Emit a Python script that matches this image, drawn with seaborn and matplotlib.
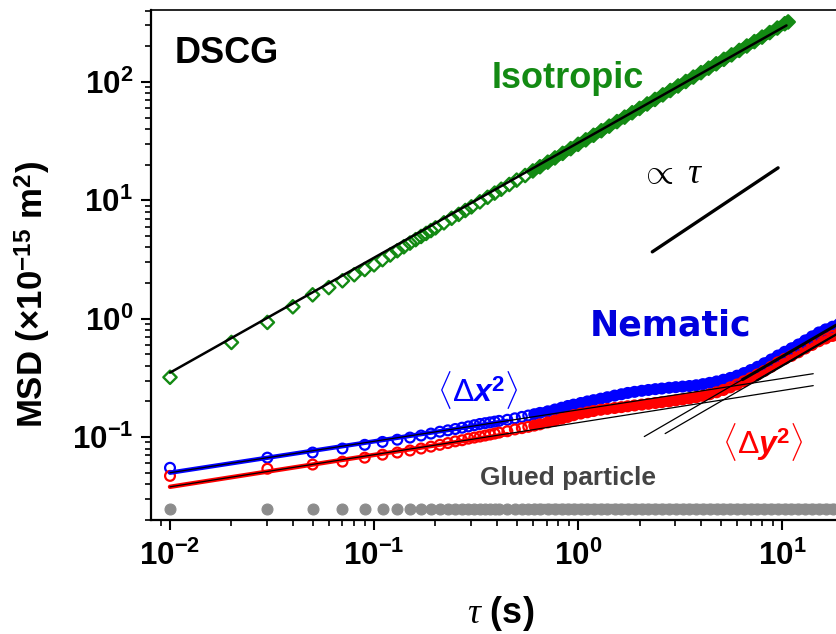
import numpy as np
import matplotlib
matplotlib.use("Agg")
import matplotlib.pyplot as plt
import matplotlib.ticker as mticker
import seaborn as sns

# isotropic phase (green diamonds), lag time in s, MSD in 1e-15 m^2
iso_tau = [0.01, 0.02, 0.03, 0.04, 0.05, 0.06, 0.07, 0.08, 0.09, 0.10,
           0.11, 0.12, 0.13, 0.14, 0.15, 0.16, 0.17, 0.18, 0.19, 0.20,
           0.22, 0.24, 0.26, 0.28, 0.30, 0.33, 0.36, 0.39, 0.42, 0.46,
           0.50, 0.55, 0.60, 0.65, 0.71, 0.77, 0.84, 0.92, 1.0, 1.09,
           1.19, 1.3, 1.42, 1.55, 1.69, 1.84, 2.0, 2.18, 2.38, 2.6,
           2.83, 3.09, 3.37, 3.67, 4.0, 4.36, 4.75, 5.18, 5.65, 6.16,
           6.71, 7.31, 7.97, 8.69, 9.47, 10.3, 10.7]
iso_msd = [0.32, 0.63, 0.93, 1.26, 1.59, 1.83, 2.09, 2.35, 2.6, 2.85,
           3.15, 3.45, 3.75, 4.05, 4.35, 4.65, 4.95, 5.25, 5.55, 5.85,
           6.45, 7.05, 7.6, 8.2, 8.8, 9.7, 10.6, 11.5, 12.4, 13.6,
           14.8, 16.2, 17.7, 19.2, 21.0, 22.8, 24.9, 27.3, 29.7, 32.4,
           35.4, 38.7, 42.3, 46.2, 50.4, 54.9, 59.7, 65.1, 71.1, 77.7,
           84.6, 92.4, 100.8, 109.8, 119.7, 130.5, 142.2, 155.1, 169.2, 184.5,
           201, 219, 239, 261, 285, 310, 321]

# nematic phase and glued particle, lag times
nem_tau = [0.01, 0.03, 0.05, 0.07, 0.09, 0.11, 0.13, 0.15, 0.17, 0.19,
           0.21, 0.23, 0.25, 0.27, 0.29, 0.31, 0.33, 0.35, 0.37, 0.39,
           0.41, 0.45, 0.49, 0.53, 0.57, 0.61, 0.65, 0.71, 0.77, 0.83,
           0.89, 0.95, 1.03, 1.11, 1.19, 1.29, 1.39, 1.51, 1.63, 1.75,
           1.89, 2.05, 2.21, 2.39, 2.57, 2.79, 3.01, 3.25, 3.51, 3.79,
           4.09, 4.41, 4.77, 5.15, 5.57, 6.01, 6.49, 7.01, 7.57, 8.17,
           8.83, 9.53, 10.29, 11.11, 12.01, 12.97, 14.01, 15.13, 16.33, 17.65,
           19.05, 20.57]
msd_x = [0.055, 0.067, 0.074, 0.080, 0.086, 0.091, 0.095, 0.099, 0.103, 0.107,
         0.111, 0.114, 0.117, 0.120, 0.123, 0.126, 0.129, 0.131, 0.133, 0.135,
         0.137, 0.140, 0.144, 0.148, 0.152, 0.156, 0.160, 0.165, 0.171, 0.177,
         0.183, 0.188, 0.194, 0.200, 0.205, 0.211, 0.217, 0.224, 0.230, 0.236,
         0.241, 0.246, 0.250, 0.254, 0.257, 0.261, 0.264, 0.267, 0.270, 0.274,
         0.280, 0.287, 0.295, 0.305, 0.316, 0.330, 0.347, 0.368, 0.392, 0.420,
         0.452, 0.488, 0.525, 0.562, 0.605, 0.655, 0.708, 0.765, 0.812, 0.855,
         0.905, 0.965]
msd_y = [0.047, 0.054, 0.0586, 0.062, 0.067, 0.071, 0.074, 0.077, 0.080, 0.083,
         0.086, 0.089, 0.092, 0.094, 0.097, 0.099, 0.101, 0.103, 0.105, 0.107,
         0.109, 0.112, 0.116, 0.119, 0.122, 0.125, 0.128, 0.133, 0.138, 0.143,
         0.148, 0.153, 0.158, 0.162, 0.166, 0.170, 0.173, 0.176, 0.179, 0.182,
         0.185, 0.188, 0.191, 0.194, 0.197, 0.200, 0.204, 0.208, 0.212, 0.217,
         0.223, 0.230, 0.239, 0.250, 0.263, 0.278, 0.296, 0.315, 0.338, 0.362,
         0.392, 0.428, 0.458, 0.485, 0.520, 0.560, 0.600, 0.645, 0.680, 0.715,
         0.755, 0.800]
# glued particle sits flat at ~0.0245
msd_glued = [0.0245, 0.0245, 0.0245, 0.0245, 0.0245, 0.0245, 0.0245, 0.0245, 0.0245, 0.0245,
             0.0245, 0.0245, 0.0245, 0.0245, 0.0245, 0.0245, 0.0245, 0.0245, 0.0245, 0.0245,
             0.0245, 0.0245, 0.0245, 0.0245, 0.0245, 0.0245, 0.0245, 0.0245, 0.0245, 0.0245,
             0.0245, 0.0245, 0.0245, 0.0245, 0.0245, 0.0245, 0.0245, 0.0245, 0.0245, 0.0245,
             0.0245, 0.0245, 0.0245, 0.0245, 0.0245, 0.0245, 0.0245, 0.0245, 0.0245, 0.0245,
             0.0245, 0.0245, 0.0245, 0.0245, 0.0245, 0.0245, 0.0245, 0.0245, 0.0245, 0.0245,
             0.0245, 0.0245, 0.0245, 0.0245, 0.0245, 0.0245, 0.0245, 0.0245, 0.0245, 0.0245,
             0.0245, 0.0245]

# fitted power laws (end points)
fit_iso_tau, fit_iso_msd = [0.01, 10.5], [0.35, 300]
fit_x_tau, fit_x_msd = [0.01, 14.2], [0.050, 0.343]
fit_y_tau, fit_y_msd = [0.01, 14.2], [0.038, 0.272]
fit_x_short_tau, fit_x_short_msd = [0.01, 0.45], [0.050, 0.137]
fit_y_short_tau, fit_y_short_msd = [0.01, 0.45], [0.038, 0.106]
steep_a_tau, steep_a_msd = [2.11, 25], [0.101, 1.20]
steep_b_tau, steep_b_msd = [2.67, 25], [0.107, 1.00]
steep_a_hi_tau, steep_a_hi_msd = [6.4, 25], [0.306, 1.20]
steep_b_hi_tau, steep_b_hi_msd = [7.5, 25], [0.300, 1.00]
guide_tau, guide_msd = [2.31, 9.55], [3.67, 18.8]

GREEN = "#138a13"
BLUE = "#0000ff"
RED = "#ff0000"
GREY = "#8c8c8c"

sns.set_style("ticks")
plt.rcParams["font.family"] = ["Liberation Sans", "DejaVu Sans"]
plt.rcParams["mathtext.fontset"] = "custom"
plt.rcParams["mathtext.rm"] = "Liberation Sans"
plt.rcParams["mathtext.bf"] = "Liberation Sans:bold"
plt.rcParams["mathtext.it"] = "Liberation Serif:italic"
plt.rcParams["mathtext.bfit"] = "Liberation Sans:italic:bold"
for key in ("text.color", "axes.labelcolor", "axes.edgecolor", "xtick.color", "ytick.color"):
    plt.rcParams[key] = "black"

fig = plt.figure(figsize=(8.36, 6.34), dpi=100)
ax = fig.add_axes([151 / 836, 114 / 634, 699 / 836, 510 / 634])
ax.set_xscale("log")
ax.set_yscale("log")

# dense tails: overlapping markers form a solid band
n0 = nem_tau.index(0.61)
i0 = iso_tau.index(0.60)
sns.lineplot(x=iso_tau[i0:], y=iso_msd[i0:], color=GREEN, lw=7.5, ax=ax, zorder=1)
sns.lineplot(x=nem_tau[n0:], y=msd_glued[n0:], color=GREY, lw=7.5, ax=ax, zorder=1)
sns.lineplot(x=nem_tau[n0:], y=msd_x[n0:], color=BLUE, lw=7, ax=ax, zorder=1)
sns.lineplot(x=nem_tau[n0:], y=msd_y[n0:], color=RED, lw=7, ax=ax, zorder=1.5)

sns.scatterplot(x=nem_tau, y=msd_glued, color=GREY, edgecolor=GREY, s=62,
                linewidth=0.8, ax=ax, zorder=2)
sns.scatterplot(x=iso_tau, y=iso_msd, marker="D", facecolor="none", edgecolor=GREEN,
                s=46, linewidth=1.7, ax=ax, zorder=2)
sns.scatterplot(x=nem_tau, y=msd_x, marker="o", facecolor="none", edgecolor=BLUE,
                s=50, linewidth=1.6, ax=ax, zorder=2)
sns.scatterplot(x=nem_tau, y=msd_y, marker="o", facecolor="none", edgecolor=RED,
                s=50, linewidth=1.6, ax=ax, zorder=2.5)

sns.lineplot(x=fit_x_short_tau, y=fit_x_short_msd, color=BLUE, lw=3.2, ax=ax, zorder=3)
sns.lineplot(x=fit_y_short_tau, y=fit_y_short_msd, color=RED, lw=3.2, ax=ax, zorder=3)
sns.lineplot(x=fit_iso_tau, y=fit_iso_msd, color="black", lw=1.8, ax=ax, zorder=4)
sns.lineplot(x=fit_x_tau, y=fit_x_msd, color="black", lw=0.9, ax=ax, zorder=4)
sns.lineplot(x=fit_y_tau, y=fit_y_msd, color="black", lw=0.9, ax=ax, zorder=4)
sns.lineplot(x=steep_a_tau, y=steep_a_msd, color="black", lw=0.9, ax=ax, zorder=4)
sns.lineplot(x=steep_b_tau, y=steep_b_msd, color="black", lw=0.9, ax=ax, zorder=4)
sns.lineplot(x=steep_a_hi_tau, y=steep_a_hi_msd, color="black", lw=2.2, ax=ax, zorder=4)
sns.lineplot(x=steep_b_hi_tau, y=steep_b_hi_msd, color="black", lw=1.6, ax=ax, zorder=4)
sns.lineplot(x=guide_tau, y=guide_msd, color="black", lw=2.4, ax=ax, zorder=4)

ax.set_xlim(0.00807, 21.5)
ax.set_ylim(0.01993, 405)


def pow10(v, pos):
    return r"$\mathbf{10^{%d}}$" % int(round(np.log10(v)))


for axis in (ax.xaxis, ax.yaxis):
    axis.set_major_locator(mticker.LogLocator(base=10, numticks=10))
    axis.set_minor_locator(mticker.LogLocator(base=10, subs=np.arange(2, 10), numticks=20))
    axis.set_major_formatter(mticker.FuncFormatter(pow10))
    axis.set_minor_formatter(mticker.NullFormatter())

ax.tick_params(which="major", direction="out", length=7, width=1.5, labelsize=22.5, pad=6)
ax.tick_params(axis="x", which="major", pad=8)
ax.tick_params(which="minor", direction="out", length=4, width=1.2)
ax.tick_params(top=False, right=False, which="both")
for side in ("left", "bottom"):
    ax.spines[side].set_linewidth(1.6)
ax.spines["top"].set_linewidth(1.2)
ax.spines["right"].set_visible(False)

ax.set_xlabel(r"$\tau$ (s)", fontsize=26, fontweight="bold", labelpad=16)
ax.set_ylabel(r"MSD (×10$^{\mathbf{-15}}$ m$^{\mathbf{2}}$)", fontsize=25, fontweight="bold")
ax.yaxis.set_label_coords(-0.140, 0.443)

ax.text(0.0343, 0.896, "DSCG", transform=ax.transAxes, fontsize=26,
        fontweight="bold", ha="left", va="baseline")
ax.text(0.4878, 0.847, "Isotropic", transform=ax.transAxes, fontsize=26,
        fontweight="bold", color=GREEN, ha="left", va="baseline")
ax.text(0.6996, 0.661, r"$\propto\ \tau$", transform=ax.transAxes, fontsize=26,
        ha="left", va="baseline")
ax.text(0.628, 0.3627, "Nematic", transform=ax.transAxes, fontsize=25,
        fontweight="bold", color="#0000dd", ha="left", va="baseline",
        family="DejaVu Sans")
ax.text(0.4092, 0.2549, r"$\langle\Delta\mathbfit{x}^{\mathbf{2}}\rangle$",
        transform=ax.transAxes, fontsize=23, color=BLUE, ha="left", va="center")
ax.text(0.8169, 0.153, r"$\langle\Delta\mathbfit{y}^{\mathbf{2}}\rangle$",
        transform=ax.transAxes, fontsize=23, color=RED, ha="left", va="center")
ax.text(0.4707, 0.0686, "Glued particle", transform=ax.transAxes, fontsize=19,
        fontweight="bold", color="#444444", ha="left", va="baseline")

fig.savefig("out.png", dpi=100)
